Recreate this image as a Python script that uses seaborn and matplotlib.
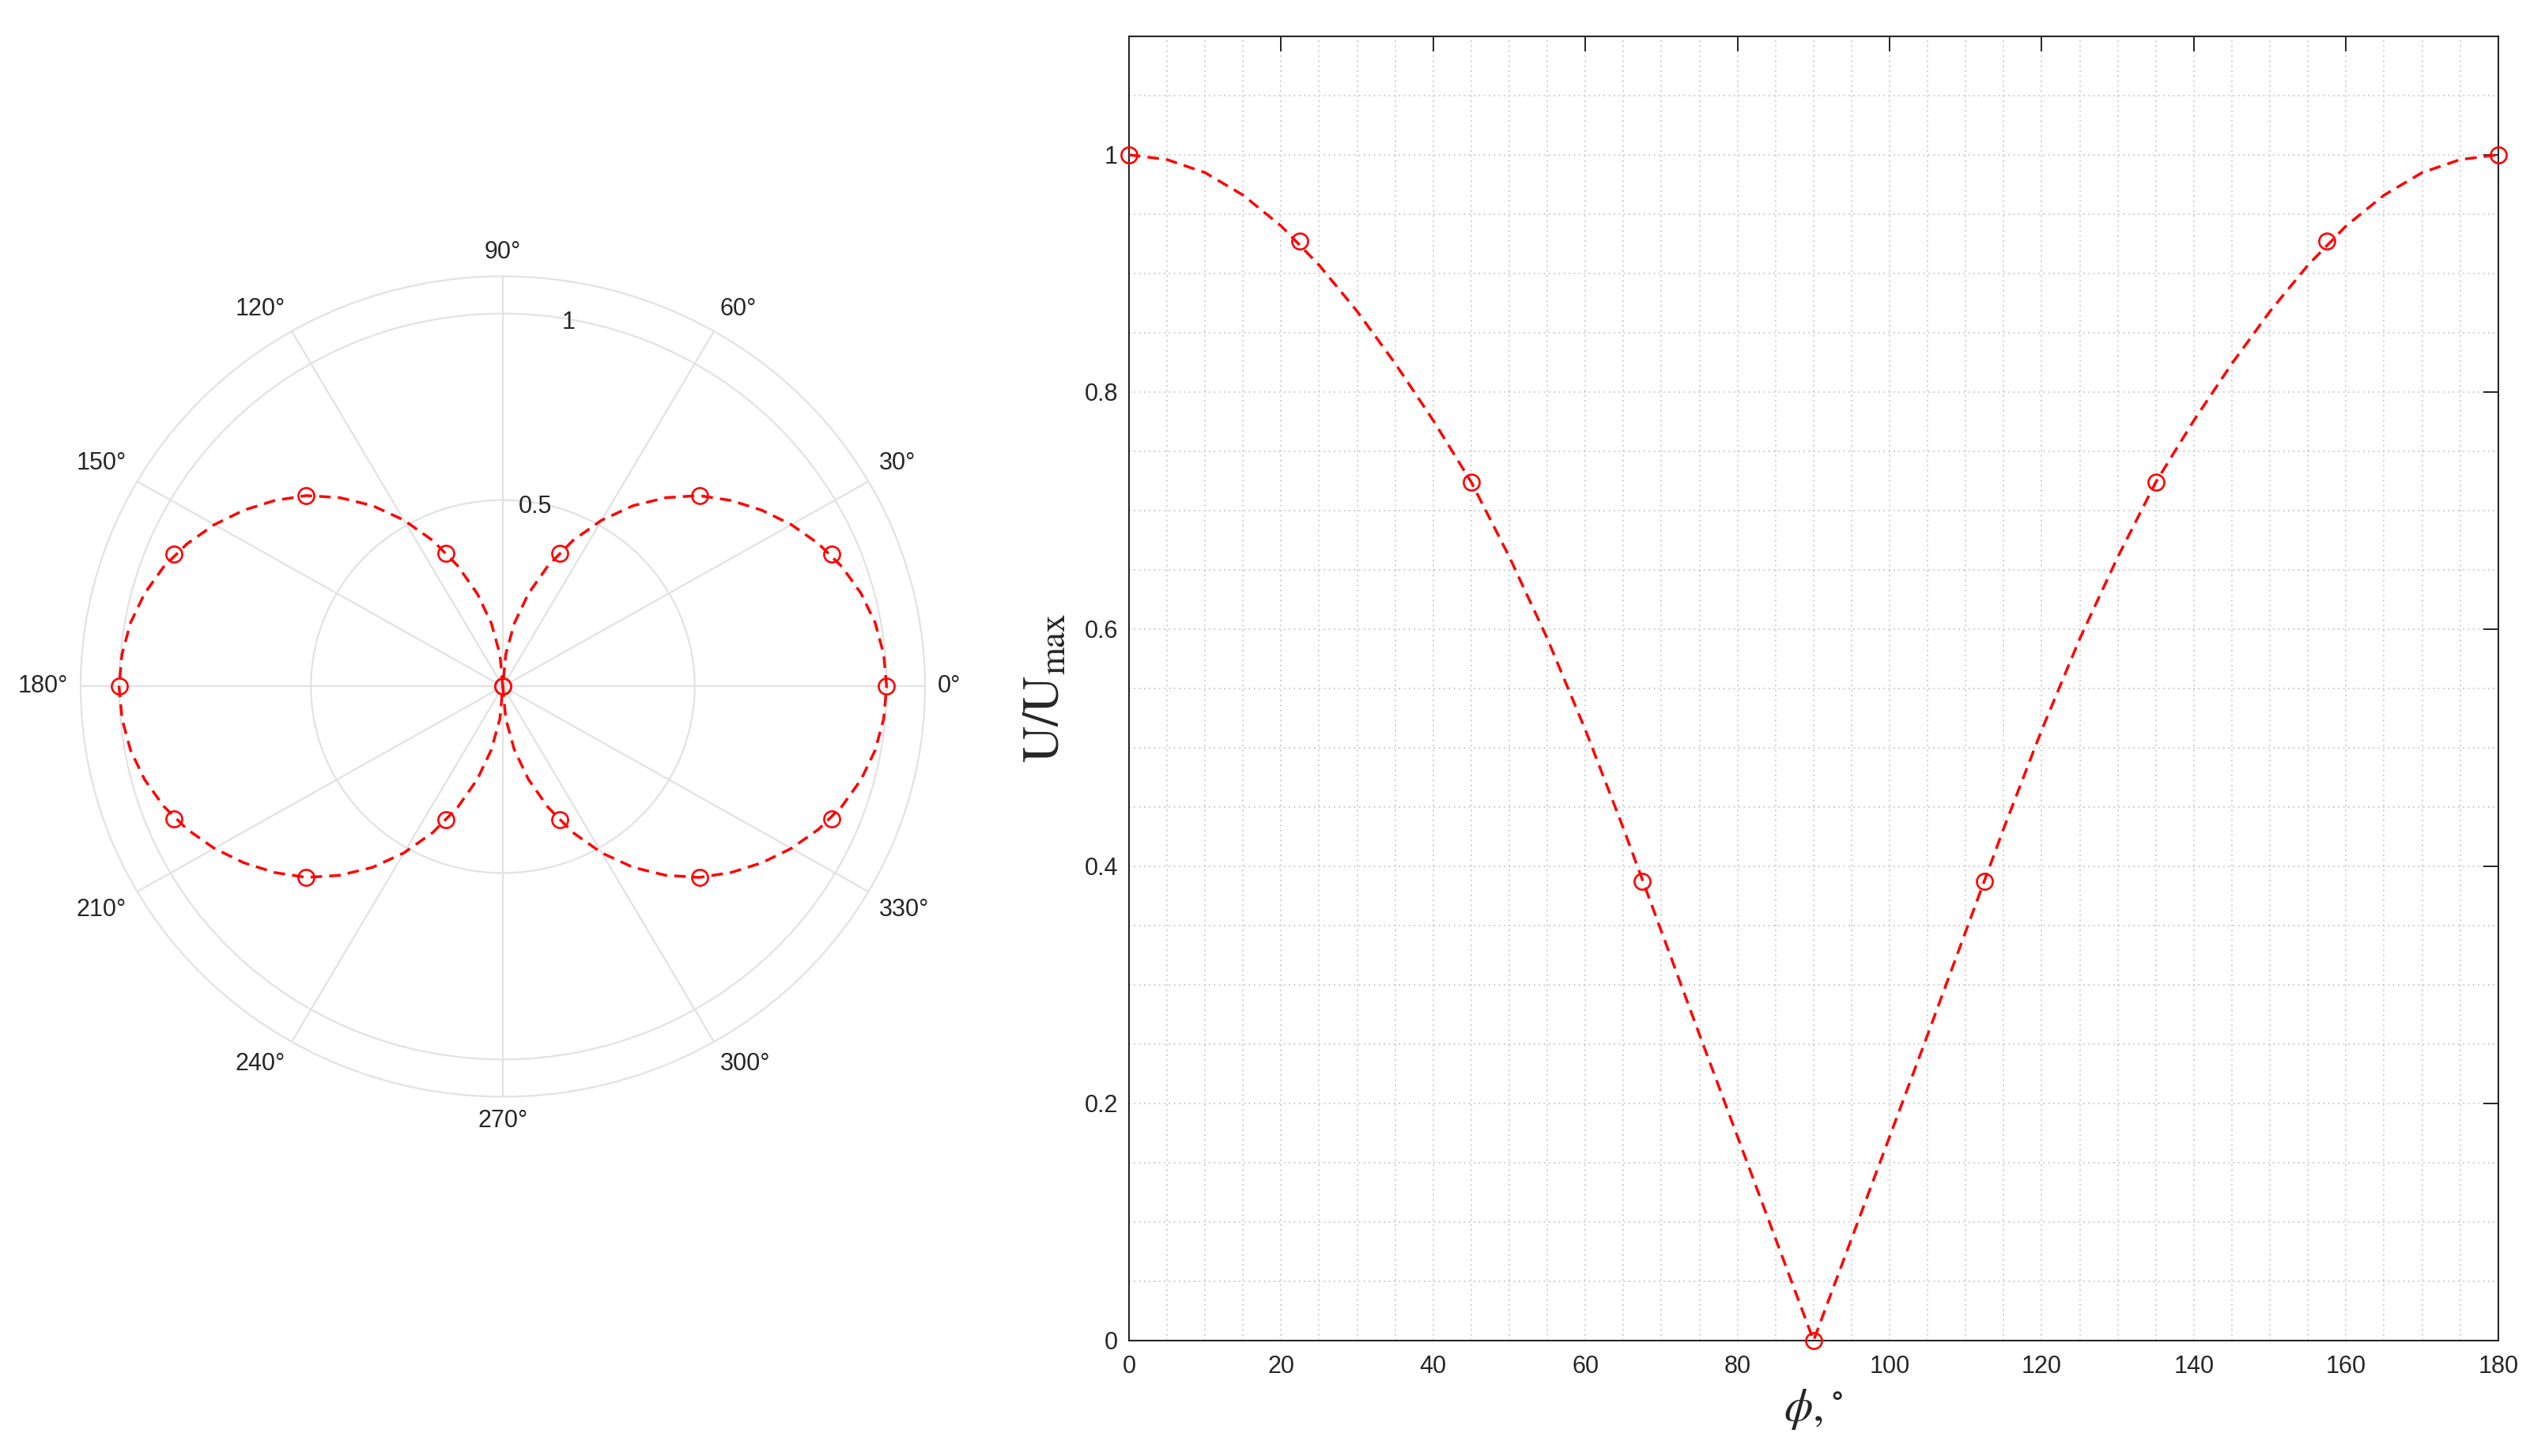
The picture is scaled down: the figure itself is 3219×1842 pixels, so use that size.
import numpy as np
import pandas as pd
import matplotlib
matplotlib.use("Agg")
import matplotlib.pyplot as plt
import seaborn as sns

# ---------------- data ----------------
marker_phi = [0, 22.5, 45, 67.5, 90, 112.5, 135, 157.5, 180]
marker_u = [1.000, 0.927, 0.724, 0.387, 0.000, 0.387, 0.724, 0.927, 1.000]

curve_phi = [0, 5, 10, 15, 20, 25, 30, 35, 40, 45, 50, 55, 60, 65, 70, 75, 80, 85, 90,
             95, 100, 105, 110, 115, 120, 125, 130, 135, 140, 145, 150, 155, 160, 165, 170, 175, 180]
curve_u = [1.000, 0.996, 0.985, 0.966, 0.940, 0.907, 0.868, 0.824, 0.776, 0.724, 0.661, 0.592,
           0.515, 0.432, 0.345, 0.258, 0.172, 0.086, 0.000,
           0.086, 0.172, 0.258, 0.345, 0.432, 0.515, 0.592, 0.661, 0.724, 0.776, 0.824, 0.868,
           0.907, 0.940, 0.966, 0.985, 0.996, 1.000]

theta_ticks = [0, 30, 60, 90, 120, 150, 180, 210, 240, 270, 300, 330]
theta_labels = ["0°", "30°", "60°", "90°", "120°", "150°", "180°", "210°", "240°", "270°", "300°", "330°"]
r_ticks = [0.5, 1.0]
r_labels = ["0.5", "1"]
x_ticks = [0, 20, 40, 60, 80, 100, 120, 140, 160, 180]
y_ticks = [0, 0.2, 0.4, 0.6, 0.8, 1.0]
y_labels = ["0", "0.2", "0.4", "0.6", "0.8", "1"]

# full-circle series for the polar panel (second half repeats the 0-180 readings)
polar_curve_deg = curve_phi + [p + 180 for p in curve_phi[1:]]
polar_curve_r = curve_u + curve_u[1:]
polar_marker_deg = marker_phi + [p + 180 for p in marker_phi[1:-1]]
polar_marker_r = marker_u + marker_u[1:-1]

# ---------------- style ----------------
sns.set_theme(style="white")
plt.rcParams["font.family"] = ["Liberation Sans", "DejaVu Sans"]
plt.rcParams["mathtext.fontset"] = "stix"

RED = "#ff0000"
DARK = "#262626"
LW = 2.5
DASH = (4.2, 2.6)
MS = 14.5
MEW = 1.9

fig = plt.figure(figsize=(32.19, 18.42), dpi=100)

# ---------------- polar panel ----------------
W, H = 3219.0, 1842.0
cx, cy, rx, ry = 636.0, 868.5, 534.0, 519.0
R_MAX = 1.1
axp = fig.add_axes([(cx - rx) / W, (H - cy - ry) / H, 2 * rx / W, 2 * ry / H],
                   projection="polar")
axp.set_aspect("auto")
dfp_line = pd.DataFrame({"theta": np.deg2rad(polar_curve_deg), "r": polar_curve_r})
dfp_mark = pd.DataFrame({"theta": np.deg2rad(polar_marker_deg), "r": polar_marker_r})
sns.lineplot(data=dfp_line, x="theta", y="r", ax=axp, color=RED, linewidth=LW,
             sort=False, estimator=None, zorder=3).lines[0].set_dashes(DASH)
sns.lineplot(data=dfp_mark, x="theta", y="r", ax=axp, sort=False, estimator=None,
             linestyle="none", marker="o", markersize=MS, markerfacecolor="none",
             markeredgecolor=RED, markeredgewidth=MEW, zorder=4)
axp.set_rlim(0, R_MAX)
axp.set_rticks(r_ticks)
axp.set_yticklabels([])
for rt, rl in zip(r_ticks, r_labels):
    axp.text(np.deg2rad(80), rt - 0.01, rl, ha="center", va="center", fontsize=22, color=DARK)
axp.set_thetagrids(theta_ticks, [""] * len(theta_ticks))
for tt, tl in zip(theta_ticks, theta_labels):
    c, s = np.cos(np.deg2rad(tt)), np.sin(np.deg2rad(tt))
    ha = "left" if c > 0.01 else ("right" if c < -0.01 else "center")
    va = "bottom" if s > 0.01 else ("top" if s < -0.01 else "center")
    axp.text(np.deg2rad(tt), R_MAX + 0.032, tl, ha=ha, va=va, fontsize=22,
             color=DARK, clip_on=False)
axp.grid(True, color="#e2e2e2", linewidth=1.6, linestyle="-")
axp.spines["polar"].set_color("#e2e2e2")
axp.spines["polar"].set_linewidth(1.6)
axp.set_xlabel("")
axp.set_ylabel("")

# ---------------- Cartesian panel ----------------
ax = fig.add_axes([0.4436, 0.0793, 0.5380, 0.8958])
df_line = pd.DataFrame({"phi": curve_phi, "u": curve_u})
df_mark = pd.DataFrame({"phi": marker_phi, "u": marker_u})
sns.lineplot(data=df_line, x="phi", y="u", ax=ax, color=RED, linewidth=LW,
             estimator=None, zorder=3).lines[0].set_dashes(DASH)
sns.lineplot(data=df_mark, x="phi", y="u", ax=ax, estimator=None,
             linestyle="none", marker="o", markersize=MS, markerfacecolor="none",
             markeredgecolor=RED, markeredgewidth=MEW, zorder=4, clip_on=False)
ax.set_xlim(0, 180)
ax.set_ylim(0, 1.1)
ax.set_xticks(x_ticks)
ax.set_yticks(y_ticks)
ax.set_yticklabels(y_labels)
ax.xaxis.set_minor_locator(matplotlib.ticker.MultipleLocator(5))
ax.yaxis.set_minor_locator(matplotlib.ticker.MultipleLocator(0.05))
ax.grid(True, which="both", color="#c8c8c8", linestyle=(0, (1, 2.5)), linewidth=1.3)
ax.tick_params(which="major", direction="in", length=14, width=1.4, colors=DARK,
               labelsize=22, top=True, right=True, pad=10)
ax.tick_params(axis="x", which="major", pad=13)
ax.tick_params(which="minor", length=0)
for s in ax.spines.values():
    s.set_color(DARK)
    s.set_linewidth(1.5)
    s.set_visible(True)
ax.set_axisbelow(True)
ax.set_ylabel(r"$\mathrm{U/U_{max}}$", fontsize=46, color=DARK, labelpad=14)
ax.set_xlabel(r"$\phi,^{\circ}$", fontsize=42, color=DARK, labelpad=8)

fig.savefig("out.png", dpi=100, facecolor="white")
